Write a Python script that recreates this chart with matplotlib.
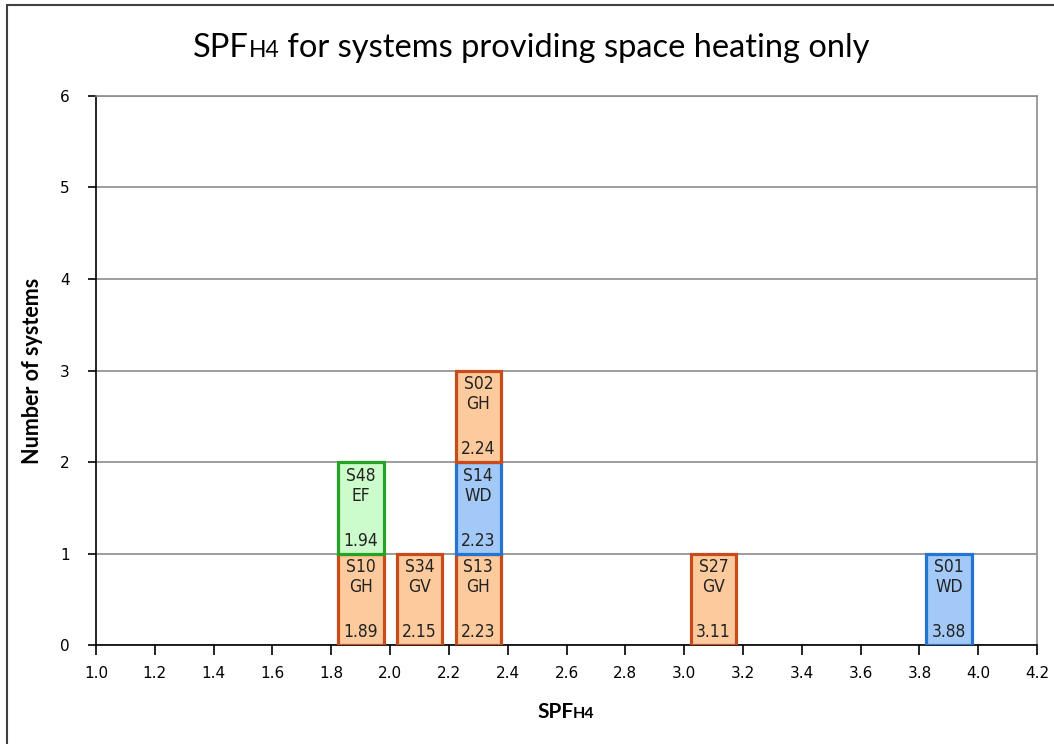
"""SPF H4 histogram: one labelled box per system, stacked in 0.2 wide bins."""

import numpy as np
import matplotlib
matplotlib.use('Agg')
import matplotlib.pyplot as plt
from matplotlib.patches import Rectangle
from matplotlib.offsetbox import TextArea, HPacker, AnchoredOffsetbox

# data (listed bottom to top inside each bin)
systems = ['S10', 'S48', 'S34', 'S13', 'S14', 'S02', 'S27', 'S01']
types = ['GH', 'EF', 'GV', 'GH', 'WD', 'GH', 'GV', 'WD']
spf = [1.89, 1.94, 2.15, 2.23, 2.23, 2.24, 3.11, 3.88]

x_ticks = [1.0, 1.2, 1.4, 1.6, 1.8, 2.0, 2.2, 2.4, 2.6, 2.8, 3.0, 3.2, 3.4,
           3.6, 3.8, 4.0, 4.2]
y_ticks = [0, 1, 2, 3, 4, 5, 6]

bin_start = 1.0
bin_width = 0.2

styles = {
    'GH': ('#fcca9c', '#c84b1c'),
    'GV': ('#fcca9c', '#c84b1c'),
    'WD': ('#a2c9f7', '#2474d0'),
    'EF': ('#ccfccc', '#26a226'),
}

narrow = ['Liberation Sans Narrow', 'DejaVu Sans Condensed', 'DejaVu Sans']


def mixed_text(fig, parts, xy, weight='normal'):
    """Text with a smaller, baseline-aligned part (e.g. SPF + H4)."""
    boxes = [TextArea(t, textprops=dict(fontsize=s, family=f, weight=weight,
                                        color='black'))
             for t, s, f in parts]
    pack = HPacker(children=boxes, align='baseline', pad=0, sep=0)
    box = AnchoredOffsetbox(loc='center', child=pack, bbox_to_anchor=xy,
                            bbox_transform=fig.transFigure, frameon=False,
                            pad=0, borderpad=0)
    fig.add_artist(box)


fig = plt.figure(figsize=(10.54, 7.44), dpi=100)
ax = fig.add_axes([0.0911, 0.133, 0.8929, 0.738])

# stack the systems per bin
bins = np.floor((np.array(spf) - bin_start) / bin_width + 1e-9)
centers = bin_start + (bins + 0.5) * bin_width
levels = []
seen = {}
for b in bins:
    levels.append(seen.get(b, 0))
    seen[b] = seen.get(b, 0) + 1

for name, kind, val, xc, lvl in zip(systems, types, spf, centers, levels):
    face, edge = styles[kind]
    ax.bar(xc, 1, width=0.155, bottom=lvl, color=face, edgecolor=edge,
           linewidth=2.3, zorder=3)
    ax.text(xc, lvl + 0.95, f'{name}\n{kind}', ha='center', va='top',
            fontsize=12.5, family=narrow, fontstretch='condensed',
            linespacing=1.15, zorder=4, color='#222222')
    ax.text(xc, lvl + 0.04, f'{val:.2f}', ha='center', va='bottom',
            fontsize=12.5, family=narrow, fontstretch='condensed',
            zorder=4, color='#222222')

ax.set_xlim(x_ticks[0], x_ticks[-1])
ax.set_ylim(y_ticks[0], y_ticks[-1])
ax.set_xticks(x_ticks)
ax.set_xticklabels([f'{t:.1f}' for t in x_ticks])
ax.set_yticks(y_ticks)
ax.tick_params(axis='both', labelsize=11, colors='black', direction='out')
ax.tick_params(axis='x', length=7, width=1.2, pad=8)
ax.tick_params(axis='y', length=6, width=1.2, pad=13)
ax.yaxis.grid(True, color='#8c8c8c', linewidth=1.2, zorder=1)
ax.set_axisbelow(True)

for side in ['left', 'bottom']:
    ax.spines[side].set_color('black')
    ax.spines[side].set_linewidth(1.2)
for side in ['top', 'right']:
    ax.spines[side].set_color('#8c8c8c')
    ax.spines[side].set_linewidth(1.2)

ax.set_ylabel('Number of systems', fontsize=15.5, weight='bold',
              family='Lato', labelpad=12)

mixed_text(fig, [('SPF', 23.5, 'Lato'), ('H4', 16.5, 'Lato'),
                 (' for systems providing space heating only', 23.5, 'Lato')],
           (0.504, 0.936))
mixed_text(fig, [('SPF', 15, 'Lato'), ('H4', 11.5, 'Lato')],
           (0.537, 0.043), weight='bold')

# outer chart border
fig.patches.append(Rectangle((7 / 1054, -0.1), 1.2, 1.1 - 5 / 744,
                             transform=fig.transFigure, fill=False,
                             edgecolor='#404040', linewidth=1.5))

fig.savefig('out.png', dpi=100)
